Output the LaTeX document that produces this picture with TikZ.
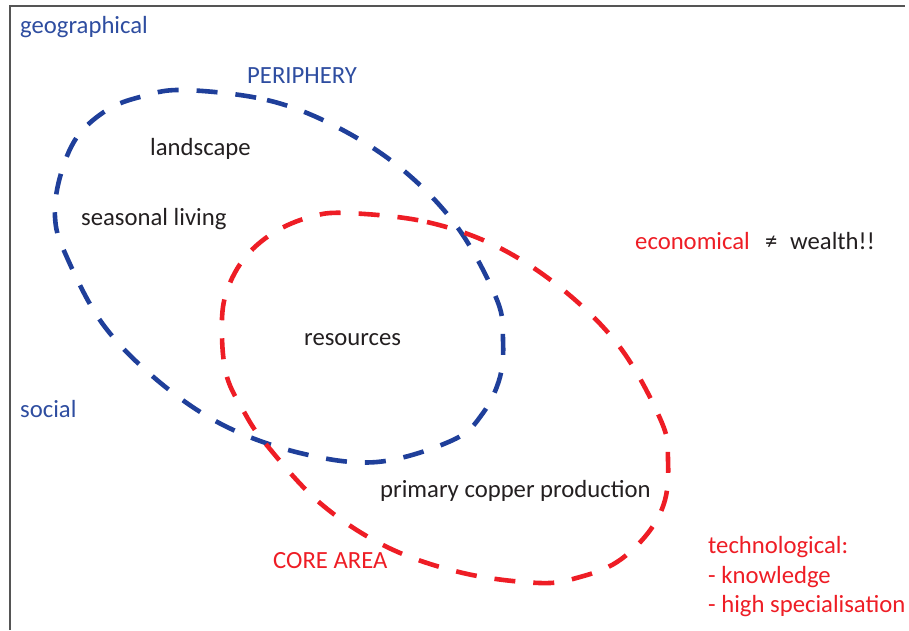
\documentclass[tikz,border=0pt]{standalone}
\usepackage{fontspec}
\setmainfont{Carlito}
\definecolor{periblue}{HTML}{1F3F9A}
\definecolor{bluetext}{HTML}{2E4DA0}
\definecolor{corered}{HTML}{EE1D25}
\definecolor{inktext}{HTML}{231F20}
\definecolor{framegray}{HTML}{555555}
\begin{document}
\begin{tikzpicture}[x=1pt,y=-1pt,
  lbl/.style={anchor=base west, inner sep=0pt, font=\fontsize{24.7}{30}\selectfont},
  zone/.style={line width=4.6pt, dash pattern=on 21pt off 18pt, line cap=butt},
  periphery/.style={zone, draw=periblue},
  core/.style={zone, draw=corered}]
\useasboundingbox (0,0) rectangle (909,630);

% frame
\draw[framegray, line width=1.8pt] (10,630) -- (10,6) -- (905,6);

% periphery zone
\draw[periphery] plot[smooth cycle, tension=0.6] coordinates {
  (183,90) (267,100) (337,127) (403,170) (458,228) (497,300) (503,340)
  (500,377) (483,413) (453,440) (377,462) (300,453) (223,425) (157,380)
  (102,323) (65,253) (55,217) (60,177) (77,137) (107,110) (140,97)};

% core area zone
\draw[core] plot[smooth cycle, tension=0.6] coordinates {
  (347,213) (427,222) (500,248) (567,293) (622,350) (662,423) (668,460)
  (665,500) (648,533) (617,562) (580,577) (540,583) (463,573) (387,547)
  (320,503) (265,443) (243,410) (227,377) (222,337) (225,297) (243,260)
  (273,233) (310,217)};

% labels
\node[lbl, bluetext] (geo) at (20,33) {geographical};
\node[lbl, bluetext] (peri) at (247,83) {PERIPHERY};
\node[lbl, inktext] (land) at (150,155) {landscape};
\node[lbl, inktext] (season) at (81,225) {seasonal living};
\node[lbl, inktext] (res) at (304,345) {resources};
\node[lbl, bluetext] (soc) at (20,417) {social};
\node[lbl, corered] (eco) at (635,249) {economical};
\node[lbl, inktext] (neq) at (765,249) {≠};
\node[lbl, inktext] (wealth) at (790,249) {wealth!!};
\node[lbl, inktext] (copper) at (380,497) {primary copper production};
\node[lbl, corered] (core) at (273,568) {CORE AREA};
\node[lbl, corered] (tech) at (708,553) {technological:};
\node[lbl, corered] (know) at (708,583) {- knowledge};
\node[lbl, corered] (spec) at (708,612) {- high specialisation};
\end{tikzpicture}
\end{document}
